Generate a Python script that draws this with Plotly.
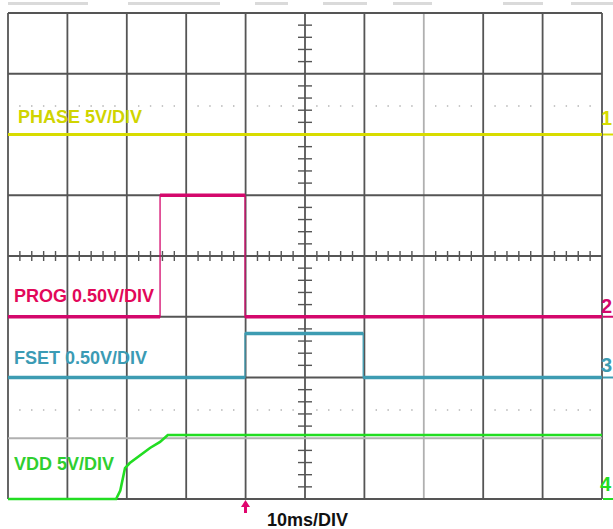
import plotly.graph_objects as go

W, H = 613, 529
# grid geometry (pixels)
X0, X1 = 8.0, 602.0
Y_TOP, Y_BOT = 13.0, 499.0
NX, NY = 10, 8
PXDIV = (X1 - X0) / NX
PYDIV = (Y_BOT - Y_TOP) / NY
YC = (Y_TOP + Y_BOT) / 2

MS_PER_DIV = 10.0

# ---- data (time in ms from left edge of screen, values in volts) ----
phase_t = [0, 100]
phase_v = [0, 0]

prog_t = [0, 25.6, 25.6, 39.9, 39.9, 100]
prog_v = [0, 0, 1.0, 1.0, 0, 0]

fset_t = [0, 39.9, 39.9, 59.8, 59.8, 100]
fset_v = [0, 0, 0.362, 0.362, 0, 0]

vdd_t = [0, 18.2, 18.9, 19.2, 19.7, 20.5, 22.2, 23.9, 25.6, 26.9, 100]
vdd_v = [0, 0, 0.7, 1.5, 2.55, 2.96, 3.6, 4.2, 4.7, 5.27, 5.27]

channels = ["PHASE", "PROG", "FSET", "VDD"]
scales = [5.0, 0.5, 0.5, 5.0]          # V/div
offsets = [2.0, -1.0, -2.0, -4.0]      # ground position in divisions
labels = ["PHASE 5V/DIV", "PROG 0.50V/DIV", "FSET 0.50V/DIV", "VDD 5V/DIV"]
markers = ["1", "2", "3", "4"]
trace_colors = ["#d8dc00", "#d4086c", "#3d9cb2", "#22dd22"]
text_colors = ["#d0d400", "#e2085a", "#3b9bb4", "#2fcf2f"]
time_label = "10ms/DIV"

def px_to_t(px):
    return (px - X0) / PXDIV * MS_PER_DIV

def py_to_div(py):
    return (YC - py) / PYDIV

xr = [px_to_t(0), px_to_t(W)]
yr = [py_to_div(H), py_to_div(0)]

def xp(px):
    return px / W

def yp(py):
    return 1 - py / H

fig = go.Figure()
shapes = []

def bshape(**kw):
    kw.setdefault("layer", "below")
    shapes.append(kw)

# top faded status bars
for a, b in [(8, 88), (128, 220), (255, 288), (323, 367), (393, 432), (503, 543), (571, 613)]:
    bshape(type="line", xref="paper", yref="paper", x0=xp(a), x1=xp(b),
           y0=yp(3.5), y1=yp(3.5), line=dict(color="#dadada", width=3))

# dotted half-division lines
for pyd in [106, 410]:
    for i in range(NX):
        for k in range(1, 5):
            px = X0 + (i + k / 5) * PXDIV
            bshape(type="rect", xref="paper", yref="paper",
                   x0=xp(px - 0.7), x1=xp(px + 0.7), y0=yp(pyd + 0.7), y1=yp(pyd - 0.7),
                   line=dict(width=0), fillcolor="#b0b0b0")

# grid lines
light_v = {7}
light_h = {7}
for i in range(NX + 1):
    px = X0 + i * PXDIV
    col = "#b0b0b0" if i in light_v else "#555555"
    bshape(type="line", xref="paper", yref="paper", x0=xp(px), x1=xp(px),
           y0=yp(Y_TOP), y1=yp(Y_BOT), line=dict(color=col, width=1.8))
for j in range(NY + 1):
    py = Y_TOP + j * PYDIV
    col = "#b0b0b0" if j in light_h else "#555555"
    bshape(type="line", xref="paper", yref="paper", x0=xp(X0), x1=xp(X1),
           y0=yp(py), y1=yp(py), line=dict(color=col, width=1.8))

# center minor ticks
XC = X0 + 5 * PXDIV
for i in range(NX * 5 + 1):
    px = X0 + i * PXDIV / 5
    if i % 5 == 0:
        continue
    bshape(type="line", xref="paper", yref="paper", x0=xp(px), x1=xp(px),
           y0=yp(YC - 5), y1=yp(YC + 5), line=dict(color="#555555", width=1.4))
for j in range(NY * 5 + 1):
    py = Y_TOP + j * PYDIV / 5
    if j % 5 == 0:
        continue
    bshape(type="line", xref="paper", yref="paper", x0=xp(XC - 7), x1=xp(XC + 7),
           y0=yp(py), y1=yp(py), line=dict(color="#555555", width=1.4))

# traces
series = [(phase_t, phase_v), (prog_t, prog_v), (fset_t, fset_v), (vdd_t, vdd_v)]
for idx, (t, v) in enumerate(series):
    y = [offsets[idx] + val / scales[idx] for val in v]
    col = trace_colors[idx]
    if idx in (1, 2):
        fig.add_trace(go.Scatter(x=t, y=y, mode="lines", line=dict(color=col, width=1.3),
                                 hoverinfo="skip", showlegend=False, name=channels[idx]))
        hx, hy = [], []
        for k in range(len(t) - 1):
            if v[k] == v[k + 1] and t[k] != t[k + 1]:
                hx += [t[k], t[k + 1], None]
                hy += [y[k], y[k + 1], None]
        fig.add_trace(go.Scatter(x=hx, y=hy, mode="lines", line=dict(color=col, width=3.4),
                                 hoverinfo="skip", showlegend=False, name=channels[idx]))
    else:
        fig.add_trace(go.Scatter(x=t, y=y, mode="lines",
                                 line=dict(color=col, width=3 if idx == 0 else 2.6),
                                 hoverinfo="skip", showlegend=False, name=channels[idx]))

    # ground marker dash at right
    gy = offsets[idx]
    shapes.append(dict(type="line", xref="x", yref="y", x0=px_to_t(603), x1=px_to_t(613),
                       y0=gy, y1=gy, line=dict(color=col, width=2), layer="above"))

FONT = "Liberation Sans, Arial, sans-serif"
annotations = []
label_mid = [116.5, 295.5, 357.5, 464.5]
for idx in range(4):
    annotations.append(dict(x=xp(13 if idx else 17), y=yp(label_mid[idx]), xref="paper", yref="paper",
                            text="<b>" + labels[idx] + "</b>", showarrow=False, xanchor="left",
                            yanchor="middle", borderpad=0,
                            font=dict(family=FONT, size=18, color=text_colors[idx])))
marker_mid = [118, 305.5, 364.5, 484]
for idx in range(4):
    annotations.append(dict(x=xp(613), y=yp(marker_mid[idx]), xref="paper", yref="paper",
                            text="<b>" + markers[idx] + "</b>", showarrow=False, xanchor="right",
                            yanchor="middle", borderpad=0,
                            font=dict(family=FONT, size=20, color=trace_colors[idx])))
annotations.append(dict(x=xp(307.5), y=yp(519.5), xref="paper", yref="paper",
                        text="<b>" + time_label + "</b>",
                        showarrow=False, xanchor="center", yanchor="middle", borderpad=0,
                        font=dict(family=FONT, size=18, color="#111111")))

# trigger arrow
ax = 245.5
shapes.append(dict(type="path", xref="paper", yref="paper",
                   path=f"M {xp(ax)} {yp(500)} L {xp(ax - 4.5)} {yp(507)} L {xp(ax + 4.5)} {yp(507)} Z",
                   fillcolor="#e0066e", line=dict(width=0)))
shapes.append(dict(type="line", xref="paper", yref="paper", x0=xp(ax), x1=xp(ax),
                   y0=yp(505), y1=yp(513), line=dict(color="#e0066e", width=3)))

fig.update_layout(
    width=W, height=H, margin=dict(l=0, r=0, t=0, b=0),
    paper_bgcolor="white", plot_bgcolor="white",
    xaxis=dict(range=xr, visible=False, fixedrange=True),
    yaxis=dict(range=yr, visible=False, fixedrange=True),
    shapes=shapes, annotations=annotations, showlegend=False,
)
fig.write_html("out.html", config={"displayModeBar": False},
               post_script="document.body.style.margin='0';document.body.style.overflow='hidden';")
